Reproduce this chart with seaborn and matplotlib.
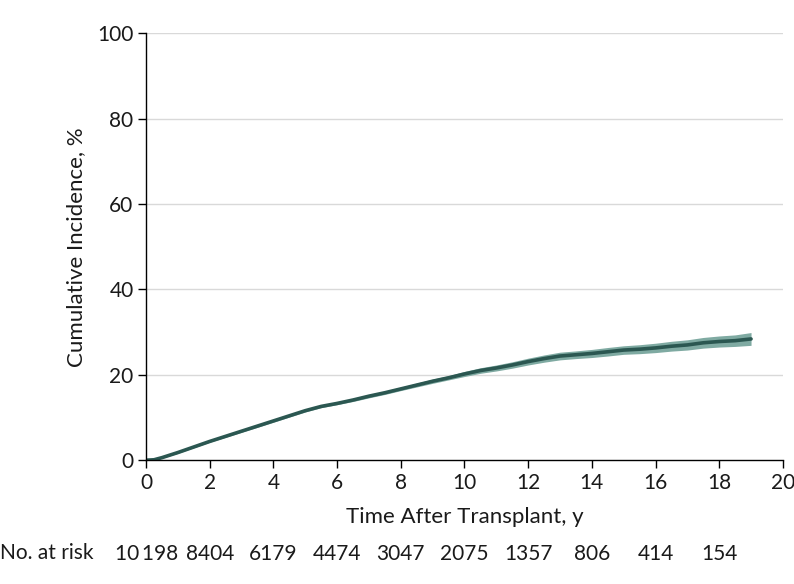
import numpy as np
import pandas as pd
import seaborn as sns
import matplotlib.pyplot as plt

# cumulative incidence (%)
years = [0, 0.25, 0.5, 1, 1.5, 2, 2.5, 3, 3.5, 4, 4.5, 5, 5.5, 6, 6.5, 7, 7.5, 8, 8.5, 9,
         9.5, 10, 10.5, 11, 11.5, 12, 12.5, 13, 13.5, 14, 14.5, 15, 15.5, 16, 16.5, 17,
         17.5, 18, 18.5, 19]
incidence = [0, 0.1, 0.6, 1.8, 3.1, 4.4, 5.6, 6.8, 8.0, 9.2, 10.4, 11.6, 12.6, 13.3, 14.1,
             15.0, 15.8, 16.7, 17.6, 18.5, 19.3, 20.2, 21.0, 21.6, 22.3, 23.1, 23.8, 24.4,
             24.7, 25.0, 25.4, 25.8, 26.0, 26.3, 26.7, 27.0, 27.5, 27.8, 28.0, 28.4]
ci_low = [0, 0.05, 0.45, 1.6, 2.9, 4.2, 5.35, 6.55, 7.7, 8.9, 10.1, 11.3, 12.3, 13.0, 13.75,
          14.6, 15.4, 16.3, 17.15, 18.0, 18.8, 19.6, 20.35, 20.9, 21.55, 22.3, 22.95, 23.5,
          23.8, 24.05, 24.4, 24.8, 24.95, 25.2, 25.55, 25.8, 26.25, 26.5, 26.65, 26.9]
ci_high = [0, 0.15, 0.75, 2.0, 3.3, 4.6, 5.85, 7.05, 8.3, 9.5, 10.7, 11.9, 12.9, 13.6, 14.45,
           15.4, 16.2, 17.1, 18.05, 19.0, 19.8, 20.8, 21.65, 22.3, 23.05, 23.9, 24.65, 25.3,
           25.6, 25.95, 26.4, 26.8, 27.05, 27.4, 27.85, 28.2, 28.75, 29.1, 29.35, 29.9]

risk_times = [0, 2, 4, 6, 8, 10, 12, 14, 16, 18]
at_risk = ["10\u2009198", "8404", "6179", "4474", "3047", "2075", "1357", "806", "414", "154"]

df = pd.DataFrame({"t": years, "ci": incidence, "lo": ci_low, "hi": ci_high})

sns.set_style("white")
plt.rcParams["font.family"] = ["Lato", "DejaVu Sans"]
plt.rcParams["text.color"] = "#1a1a1a"
plt.rcParams["axes.labelcolor"] = "#1a1a1a"
plt.rcParams["xtick.color"] = "#1a1a1a"
plt.rcParams["ytick.color"] = "#1a1a1a"

fig = plt.figure(figsize=(7.94, 5.84), dpi=100)
ax = fig.add_axes([0.184, 0.212, 0.802, 0.731])

ax.fill_between(df["t"], df["lo"], df["hi"], color="#7faaa2", lw=0)
sns.lineplot(data=df, x="t", y="ci", ax=ax, color="#2b5751", lw=2.6)

ax.set_xlim(0, 20)
ax.set_ylim(0, 100)
ax.set_xticks(range(0, 21, 2))
ax.set_yticks(range(0, 101, 20))
for yv in range(20, 101, 20):
    ax.axhline(yv, color="#d9d9d9", lw=1, zorder=0)

for s in ["top", "right"]:
    ax.spines[s].set_visible(False)
for s in ["left", "bottom"]:
    ax.spines[s].set_color("black")
    ax.spines[s].set_linewidth(1)
ax.tick_params(axis="both", direction="out", length=6, width=1, color="black",
               labelsize=15, pad=3, bottom=True, left=True)

ax.set_xlabel("Time After Transplant, y", fontsize=16, labelpad=10)
ax.set_ylabel("Cumulative Incidence, %", fontsize=16, labelpad=8)

trans = ax.get_xaxis_transform()
for t, n in zip(risk_times, at_risk):
    ax.text(t, -0.22, n, transform=trans, ha="center", va="center", fontsize=15)
fig.text(0.0, 0.053, "No. at risk", ha="left", va="center", fontsize=15)

fig.savefig("out.png", dpi=100)
